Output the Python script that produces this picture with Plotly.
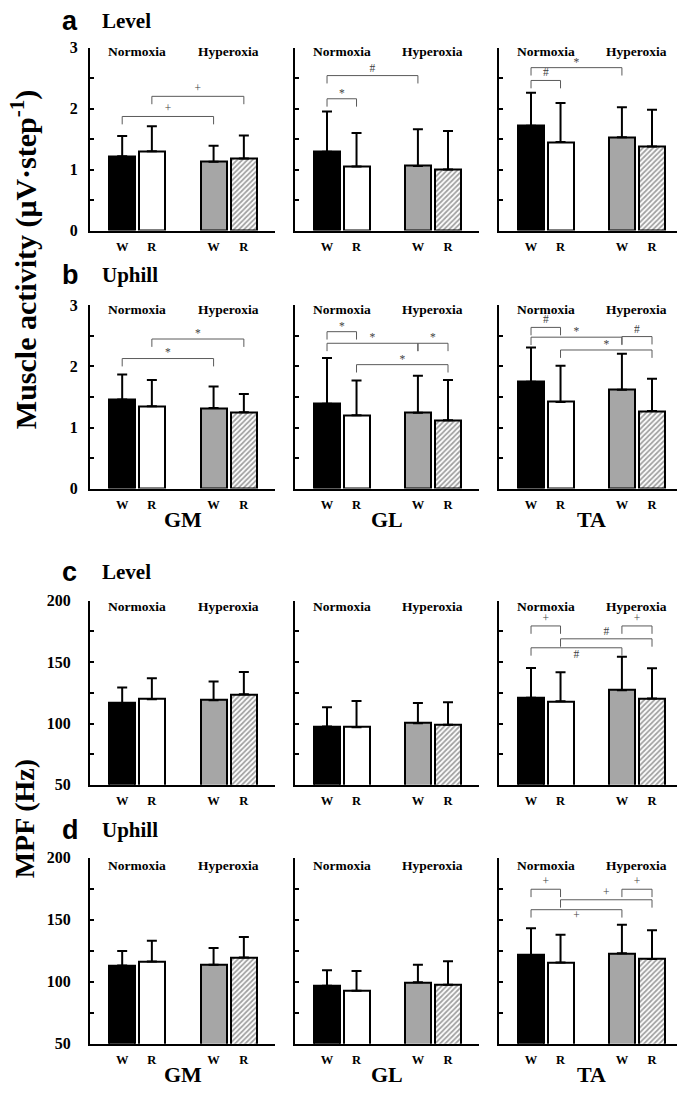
import plotly.graph_objects as go

# ---------------- data ----------------
MUSCLES = ["GM", "GL", "TA"]
GROUPS = ["Normoxia", "Hyperoxia"]
BAR_LABELS = ["W", "R", "W", "R"]          # Normoxia-W, Normoxia-R, Hyperoxia-W, Hyperoxia-R
ROW_LETTERS = ["a", "b", "c", "d"]
ROW_TITLES = ["Level", "Uphill", "Level", "Uphill"]
ACT_TICKS = [0, 1, 2, 3]
MPF_TICKS = [50, 100, 150, 200]
ACT_TITLE = "Muscle activity (μV·step<sup>-1</sup>)"
MPF_TITLE = "MPF (Hz)"

# Muscle activity, level  (per muscle: GM, GL, TA)
act_level_mean = [[1.22, 1.30, 1.13, 1.18], [1.29, 1.05, 1.06, 1.00], [1.72, 1.45, 1.53, 1.38]]
act_level_sd = [[0.33, 0.41, 0.26, 0.38], [0.66, 0.55, 0.60, 0.63], [0.54, 0.64, 0.49, 0.60]]
# Muscle activity, uphill
act_uphill_mean = [[1.46, 1.35, 1.32, 1.25], [1.39, 1.20, 1.24, 1.12], [1.75, 1.42, 1.62, 1.27]]
act_uphill_sd = [[0.41, 0.43, 0.35, 0.30], [0.75, 0.57, 0.61, 0.66], [0.56, 0.59, 0.59, 0.53]]
# MPF, level
mpf_level_mean = [[116.5, 119.8, 119.0, 123.8], [97.6, 97.0, 100.2, 98.9], [121.0, 118.1, 127.1, 120.4]]
mpf_level_sd = [[12.9, 17.1, 15.2, 18.1], [15.7, 21.4, 16.6, 18.4], [24.2, 23.7, 27.2, 24.6]]
# MPF, uphill
mpf_uphill_mean = [[113.2, 116.4, 113.7, 119.5], [96.7, 92.7, 99.6, 97.5], [121.5, 115.6, 122.9, 118.4]]
mpf_uphill_sd = [[11.7, 16.7, 13.5, 16.5], [12.5, 16.0, 14.2, 19.0], [21.6, 22.4, 23.0, 23.1]]

# significance brackets: (muscle index, bar from, bar to, level, symbol, label side)
brackets_a = [(0, 0, 2, 1.87, "+", 1), (0, 1, 3, 2.20, "+", 1),
              (1, 0, 1, 2.16, "*", 1), (1, 0, 2, 2.54, "#", 1),
              (2, 0, 1, 2.46, "#", 1), (2, 0, 2, 2.67, "*", 1)]
brackets_b = [(0, 0, 2, 2.13, "*", 1), (0, 1, 3, 2.45, "*", 1),
              (1, 0, 1, 2.57, "*", 1), (1, 0, 2, 2.38, "*", 1), (1, 2, 3, 2.38, "*", 1), (1, 1, 3, 2.03, "*", 1),
              (2, 0, 1, 2.64, "#", 1), (2, 0, 2, 2.48, "*", 1), (2, 2, 3, 2.49, "#", 1), (2, 1, 3, 2.27, "*", 1)]
brackets_c = [(2, 0, 1, 179.5, "+", 1), (2, 2, 3, 179.5, "+", 1), (2, 1, 3, 169.0, "#", 1), (2, 0, 2, 161.7, "#", -1)]
brackets_d = [(2, 0, 1, 174.6, "+", 1), (2, 2, 3, 174.6, "+", 1), (2, 1, 3, 166.1, "+", 1), (2, 0, 2, 158.1, "+", -1)]

ROW_MEANS = [act_level_mean, act_uphill_mean, mpf_level_mean, mpf_uphill_mean]
ROW_SDS = [act_level_sd, act_uphill_sd, mpf_level_sd, mpf_uphill_sd]
ROW_BRACKETS = [brackets_a, brackets_b, brackets_c, brackets_d]
ROW_TICKS = [ACT_TICKS, ACT_TICKS, MPF_TICKS, MPF_TICKS]

# ---------------- layout / style ----------------
W, H = 685, 1095
OFF = 8   # page body margin offset (px) compensated in all placements
BAR_X = [0.0, 1.0, 3.08, 4.1]
X_RANGE = [-1.085, 5.15]
COL_PX = [(90, 275), (295, 479), (499, 683)]
ROW_PX = [(40, 226), (302, 488), (602, 789), (863, 1052)]
BAR_COLORS = ["#000000", "#ffffff", "#a6a6a6", "#ffffff"]
BAR_SHAPES = ["", "", "", "/"]
SERIF = "Liberation Serif"
SANS = "Liberation Sans"
GROUP_LABEL_OFFSET = [4, 4, 6, 8]
TICK_STANDOFF = [7, 7, 14, 14]
DROP_PX = 8


def px_x(p):
    return (p - OFF) / W


def px_y(p):
    return 1 - (p - OFF) / H


fig = go.Figure()
annotations = []
layout_axes = {}

for r in range(4):
    ticks = ROW_TICKS[r]
    y0, y1 = ticks[0], ticks[-1]
    top_px, bot_px = ROW_PX[r]
    units_per_px = (y1 - y0) / (bot_px - top_px)
    minor_step = (ticks[1] - ticks[0]) / 2
    for c in range(3):
        k = r * 3 + c + 1
        xs = "x" if k == 1 else f"x{k}"
        ys = "y" if k == 1 else f"y{k}"
        xa = "xaxis" if k == 1 else f"xaxis{k}"
        ya = "yaxis" if k == 1 else f"yaxis{k}"
        left_px, right_px = COL_PX[c]
        layout_axes[xa] = dict(
            domain=[px_x(left_px), px_x(right_px)], anchor=ys, range=X_RANGE,
            showgrid=False, zeroline=False, showline=True, linewidth=2, linecolor="black",
            tickmode="array", tickvals=BAR_X, ticktext=BAR_LABELS, ticks="",
            ticklabelstandoff=3,
            tickfont=dict(family=SERIF, size=12.5, color="black", weight="bold"),
        )
        layout_axes[ya] = dict(
            domain=[px_y(bot_px), px_y(top_px)], anchor=xs, range=[y0, y1],
            showgrid=False, zeroline=False, showline=True, linewidth=2, linecolor="black",
            tickmode="array", tickvals=ticks, ticks="inside", ticklen=4, tickwidth=2, tickcolor="black",
            minor=dict(tickmode="linear", tick0=y0, dtick=minor_step, ticks="inside", ticklen=4,
                       tickwidth=2, tickcolor="black", showgrid=False),
            showticklabels=(c == 0), ticklabelstandoff=TICK_STANDOFF[r],
            tickfont=dict(family=SERIF, size=16, color="black", weight="bold"),
        )

        means = ROW_MEANS[r][c]
        sds = ROW_SDS[r][c]
        fig.add_trace(go.Bar(
            x=BAR_X, y=means, width=0.88, xaxis=xs, yaxis=ys, showlegend=False,
            marker=dict(color=BAR_COLORS, line=dict(color="black", width=2),
                        pattern=dict(shape=BAR_SHAPES, fgcolor="#333333", size=3.6, solidity=0.5)),
            error_y=dict(type="data", symmetric=False, array=sds, arrayminus=[0] * len(sds),
                         thickness=2, width=5, color="black"),
        ))

        # group labels
        for g, gname in enumerate(GROUPS):
            annotations.append(dict(
                x=(BAR_X[2 * g] + BAR_X[2 * g + 1]) / 2, xref=xs,
                y=1 - GROUP_LABEL_OFFSET[r] / (bot_px - top_px), yref=f"{ys} domain",
                text=gname, showarrow=False, xanchor="center", yanchor="middle",
                font=dict(family=SERIF, size=13.5, color="black", weight="bold")))

    # brackets for this row
    drop = DROP_PX * units_per_px
    for (m, i, j, lvl, sym, side) in ROW_BRACKETS[r]:
        k = r * 3 + m + 1
        xs = "x" if k == 1 else f"x{k}"
        ys = "y" if k == 1 else f"y{k}"
        xi, xj = BAR_X[i], BAR_X[j]
        fig.add_trace(go.Scatter(
            x=[xi, xi, xj, xj], y=[lvl - drop, lvl, lvl, lvl - drop], mode="lines",
            line=dict(color="#5a5a5a", width=1), xaxis=xs, yaxis=ys, showlegend=False,
            hoverinfo="skip"))
        shift_px = (5 if sym == "*" else 7) * side
        fig.add_trace(go.Scatter(
            x=[(xi + xj) / 2], y=[lvl + shift_px * units_per_px], mode="text", text=[sym],
            textposition="middle center", opacity=0.97, xaxis=xs, yaxis=ys, showlegend=False,
            hoverinfo="skip", cliponaxis=False,
            textfont=dict(family=SERIF, size=11.5, color="#3a3a3a")))

# panel letters and titles
LETTER_Y = [13, 271, 573, 835]
for r in range(4):
    annotations.append(dict(x=px_x(61), y=px_y(LETTER_Y[r]), xref="paper", yref="paper",
                            text=ROW_LETTERS[r], showarrow=False, xanchor="left", yanchor="middle",
                            borderpad=0,
                            font=dict(family=SANS, size=27, color="black", weight="bold")))
    annotations.append(dict(x=px_x(100), y=px_y(LETTER_Y[r]), xref="paper", yref="paper",
                            text=ROW_TITLES[r], showarrow=False, xanchor="left", yanchor="middle",
                            font=dict(family=SERIF, size=21, color="black", weight="bold")))

# muscle names under rows b and d
for r, ypx in [(1, 519), (3, 1083)]:
    for c in range(3):
        left_px, right_px = COL_PX[c]
        annotations.append(dict(x=px_x((left_px + right_px) / 2), y=px_y(ypx), xref="paper", yref="paper",
                                text=MUSCLES[c], showarrow=False, xanchor="center", yanchor="middle",
                                font=dict(family=SERIF, size=22, color="black", weight="bold")))

# y-axis titles
annotations.append(dict(x=px_x(24), y=px_y(256), xref="paper", yref="paper", text=ACT_TITLE,
                        textangle=-90, showarrow=False, xanchor="center", yanchor="middle", borderpad=0,
                        font=dict(family=SERIF, size=30, color="black", weight="bold")))
annotations.append(dict(x=px_x(24), y=px_y(824), xref="paper", yref="paper", text=MPF_TITLE,
                        textangle=-90, showarrow=False, xanchor="center", yanchor="middle", borderpad=0,
                        font=dict(family=SERIF, size=28, color="black", weight="bold")))

fig.update_layout(
    width=W, height=H, margin=dict(l=0, r=0, t=0, b=0),
    paper_bgcolor="white", plot_bgcolor="white", bargap=0,
    annotations=annotations, **layout_axes)

fig.write_html("out.html")
